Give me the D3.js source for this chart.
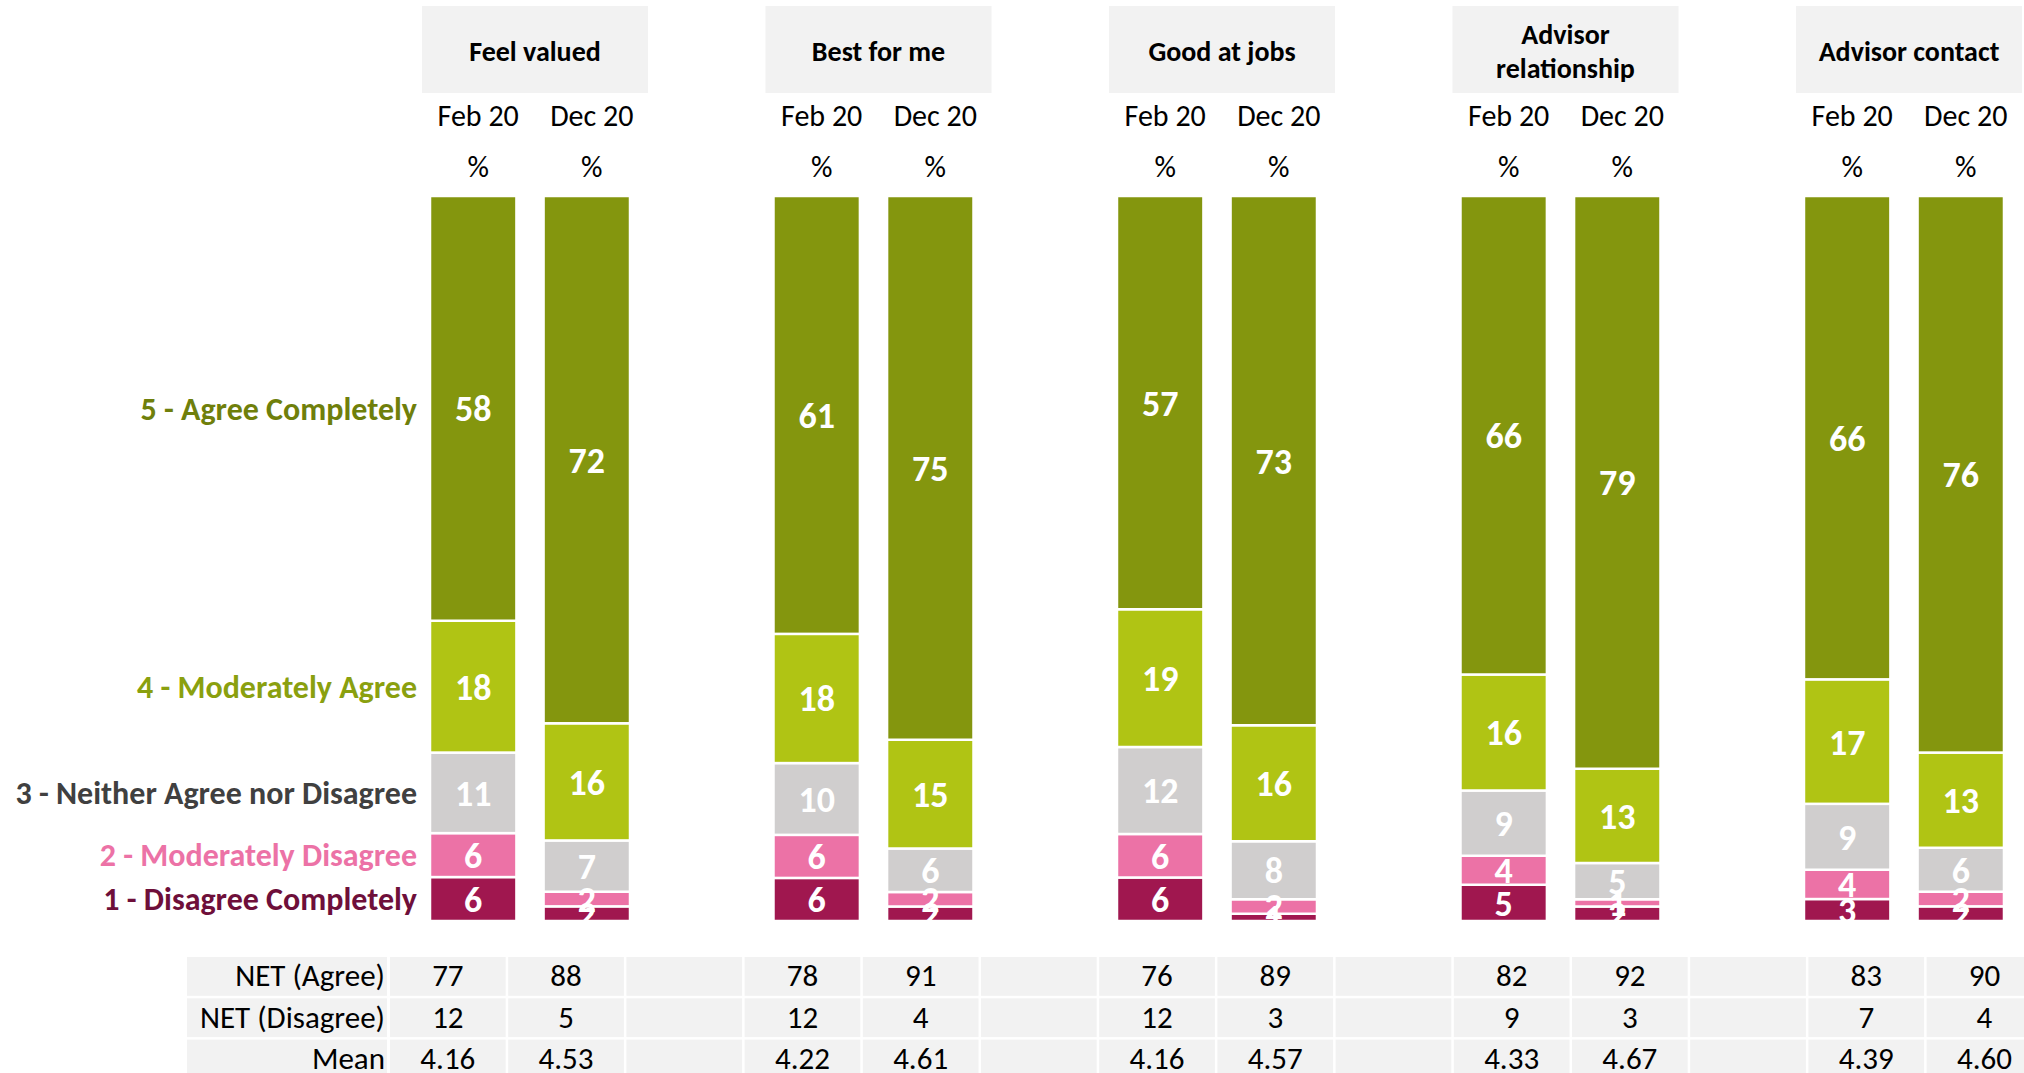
<!DOCTYPE html>
<html>
<head>
<meta charset="utf-8">
<script src="https://cdn.jsdelivr.net/npm/d3@7"></script>
<style>
  body { margin: 0; background: #fff; overflow: hidden; }
  text { font-family: Carlito, Calibri, Lato, sans-serif; }
</style>
</head>
<body>
<div id="chart"></div>
<script>
// chart data
const groups = ["Feel valued", "Best for me", "Good at jobs", "Advisor relationship", "Advisor contact"]
const headerLines = [["Feel valued"], ["Best for me"], ["Good at jobs"], ["Advisor", "relationship"], ["Advisor contact"]]
const waves = ["Feb 20", "Dec 20"]
const levels = ["1 - Disagree Completely", "2 - Moderately Disagree", "3 - Neither Agree nor Disagree", "4 - Moderately Agree", "5 - Agree Completely"]
const levelColors = ["#a0174f", "#ec72a6", "#d0cece", "#b0c414", "#84960e"]
const labelColors = ["#6e0f3a", "#ec72a6", "#404040", "#8aa00f", "#6f7f0b"]

// % per level (1..5), [Feb 20, Dec 20]
const feelValued = [[6, 6, 11, 18, 58], [2, 2, 7, 16, 72]]
const bestForMe = [[6, 6, 10, 18, 61], [2, 2, 6, 15, 75]]
const goodAtJobs = [[6, 6, 12, 19, 57], [1, 2, 8, 16, 73]]
const advisorRelationship = [[5, 4, 9, 16, 66], [2, 1, 5, 13, 79]]
const advisorContact = [[3, 4, 9, 17, 66], [2, 2, 6, 13, 76]]

// summary table
const tableRows = ["NET (Agree)", "NET (Disagree)", "Mean"]
const netAgree = [[77, 88], [78, 91], [76, 89], [82, 92], [83, 90]]
const netDisagree = [[12, 5], [12, 4], [12, 3], [9, 3], [7, 4]]
const means = [[4.16, 4.53], [4.22, 4.61], [4.16, 4.57], [4.33, 4.67], [4.39, 4.60]]

const W = 2024, H = 1073

const svg = d3.select("#chart")
  .append("svg")
  .attr("width", W)
  .attr("height", H)

const groupValues = [feelValued, bestForMe, goodAtJobs, advisorRelationship, advisorContact]

// one row per bar
let rows = []
groups.forEach((g, gi) => {
  waves.forEach((w, wi) => {
    let r = {group: g, wave: w}
    levels.forEach((l, li) => { r[l] = groupValues[gi][wi][li] })
    rows.push(r)
  })
})

const stacked = d3.stack().keys(levels).offset(d3.stackOffsetExpand)(rows)

// scales
const x0 = d3.scaleBand()
  .domain(groups)
  .range([422, 2022])
  .paddingInner(0.342)

const x1 = d3.scaleBand()
  .domain(waves)
  .range([8, 208])
  .paddingInner(0.239)

const y = d3.scaleLinear()
  .domain([0, 1])
  .range([921, 196])

const color = d3.scaleOrdinal().domain(levels).range(levelColors)
const labelColor = d3.scaleOrdinal().domain(levels).range(labelColors)

// header boxes
const head = svg.selectAll(".head")
  .data(groups)
  .enter()
  .append("g")
  .attr("class", "head")
  .attr("transform", d => `translate(${x0(d)},0)`)

head.append("rect")
  .attr("y", 6)
  .attr("width", x0.bandwidth())
  .attr("height", 87)
  .style("fill", "#f2f2f2")

head.append("text")
  .attr("x", x0.bandwidth() / 2)
  .attr("y", (d, i) => headerLines[i].length > 1 ? 44 : 61)
  .attr("dy", "0.35em")
  .style("text-anchor", "middle")
  .style("font-weight", "bold")
  .style("font-size", "28px")
  .style("fill", "#000")
  .selectAll("tspan")
  .data((d, i) => headerLines[i])
  .enter()
  .append("tspan")
  .attr("x", x0.bandwidth() / 2)
  .attr("dy", (d, i) => i ? 34 : 0)
  .text(d => d)

// wave labels and % signs (sit a touch right of the bar centres)
waves.forEach(w => {
  head.append("text")
    .attr("x", x1(w) + x1.bandwidth() / 2 + 5)
    .attr("y", 115)
    .attr("dy", "0.35em")
    .style("text-anchor", "middle")
    .style("font-size", "30px")
    .style("fill", "#000")
    .text(w)
  head.append("text")
    .attr("x", x1(w) + x1.bandwidth() / 2 + 5)
    .attr("y", 166)
    .attr("dy", "0.35em")
    .style("text-anchor", "middle")
    .style("font-size", "30px")
    .style("fill", "#000")
    .text("%")
})

// stacked bars
const layer = svg.selectAll(".layer")
  .data(stacked)
  .enter()
  .append("g")
  .attr("class", "layer")
  .style("fill", d => color(d.key))

layer.selectAll("rect")
  .data(d => d)
  .enter()
  .append("rect")
  .attr("x", d => x0(d.data.group) + x1(d.data.wave))
  .attr("y", d => y(d[1]))
  .attr("width", x1.bandwidth())
  .attr("height", d => y(d[0]) - y(d[1]))
  .style("stroke", "#fff")
  .style("stroke-width", 2.5)

// value labels
stacked.forEach(s => {
  svg.selectAll(".val-" + s.index)
    .data(s)
    .enter()
    .append("text")
    .attr("x", d => x0(d.data.group) + x1(d.data.wave) + x1.bandwidth() / 2)
    .attr("y", d => y((d[0] + d[1]) / 2))
    .attr("dy", "0.36em")
    .style("text-anchor", "middle")
    .style("font-weight", "bold")
    .style("font-size", "36px")
    .style("fill", "#fff")
    .text(d => d.data[s.key])
})

// level labels, aligned to the first bar's segments
svg.selectAll(".lvl")
  .data(stacked)
  .enter()
  .append("text")
  .attr("x", 417)
  .attr("y", d => y((d[0][0] + d[0][1]) / 2))
  .attr("dy", "0.35em")
  .style("text-anchor", "end")
  .style("font-weight", "bold")
  .style("font-size", "32px")
  .style("fill", d => labelColor(d.key))
  .text(d => d.key)

// summary table
const cols = []
groups.forEach(g => { waves.forEach(w => cols.push(g + "|" + w)); cols.push(g + "|") })

const xc = d3.scaleBand()
  .domain(cols)
  .range([390, 390 + cols.length * 118.2])

const yr = d3.scaleBand()
  .domain(tableRows)
  .range([957, 957 + 3 * 41.3])

const gap = 2.5
const tableData = [netAgree, netDisagree, means]
const fmt = [d3.format("d"), d3.format("d"), d3.format(".2f")]

tableRows.forEach((r, ri) => {
  svg.append("rect")
    .attr("x", 187)
    .attr("y", yr(r))
    .attr("width", 387 - 187)
    .attr("height", yr.bandwidth() - gap)
    .style("fill", "#f2f2f2")
  svg.append("text")
    .attr("x", 385)
    .attr("y", yr(r) + (yr.bandwidth() - gap) / 2 - 1)
    .attr("dy", "0.35em")
    .style("text-anchor", "end")
    .style("font-size", "31px")
    .style("fill", "#000")
    .text(r)

  svg.selectAll(".cell-" + ri)
    .data(cols)
    .enter()
    .append("rect")
    .attr("x", d => xc(d))
    .attr("y", yr(r))
    .attr("width", xc.bandwidth() - gap)
    .attr("height", yr.bandwidth() - gap)
    .style("fill", "#f2f2f2")

  svg.selectAll(".ctext-" + ri)
    .data(cols.filter(c => !c.endsWith("|")))
    .enter()
    .append("text")
    .attr("x", d => xc(d) + (xc.bandwidth() - gap) / 2)
    .attr("y", yr(r) + (yr.bandwidth() - gap) / 2 - 1)
    .attr("dy", "0.35em")
    .style("text-anchor", "middle")
    .style("font-size", "31px")
    .style("fill", "#000")
    .text(d => {
      let [g, w] = d.split("|")
      return fmt[ri](tableData[ri][groups.indexOf(g)][waves.indexOf(w)])
    })
})
</script>
</body>
</html>
